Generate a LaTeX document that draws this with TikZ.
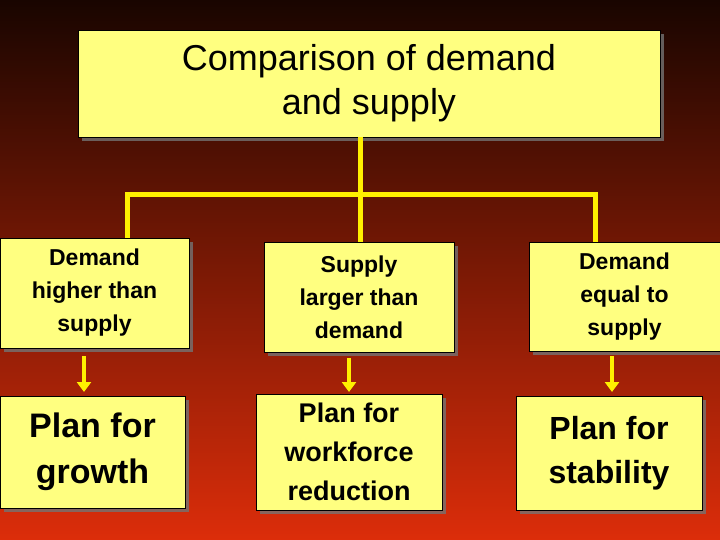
\documentclass[tikz,border=0pt]{standalone}
\usepackage{fontspec}
\setmainfont{Liberation Sans}
\usetikzlibrary{shadows,arrows.meta}
\definecolor{bgtop}{RGB}{25,5,0}
\definecolor{bgbot}{RGB}{220,45,10}
\definecolor{boxfill}{RGB}{255,255,128}
\definecolor{lineyel}{RGB}{255,240,0}
\begin{document}
\begin{tikzpicture}[x=1pt,y=-1pt,
  box/.style={draw=black,line width=0.8pt,fill=boxfill,inner sep=0pt,align=center,font=\bfseries,
    drop shadow={shadow xshift=4pt,shadow yshift=-4pt,fill=black!55,opacity=0.8}},
  conn/.style={lineyel,line width=5pt},
  arr/.style={lineyel,line width=4pt,-{Triangle[length=10pt,width=14pt]}}]
\shade[top color=bgtop,bottom color=bgbot] (0,0) rectangle (720,540);
\useasboundingbox (0,0) rectangle (720,540);
\node[box,minimum width=582pt,minimum height=107pt,font=\fontsize{36}{44}\selectfont] (t) at (369,83.5) {Comparison of demand\\and supply};
\node[box,minimum width=189pt,minimum height=110pt,font=\bfseries\fontsize{23}{33}\selectfont] (a) at (94.5,293) {Demand\\higher than\\supply};
\node[box,minimum width=190pt,minimum height=110pt,font=\bfseries\fontsize{23}{33}\selectfont] (b) at (359,297) {Supply\\larger than\\demand};
\node[box,minimum width=191pt,minimum height=109pt,font=\bfseries\fontsize{23}{33}\selectfont] (c) at (624.5,296.5) {Demand\\equal to\\supply};
\node[box,minimum width=185pt,minimum height=112pt,font=\bfseries\fontsize{34}{46}\selectfont] (d) at (92.5,452) {Plan for\\growth};
\node[box,minimum width=186pt,minimum height=116pt,font=\bfseries\fontsize{27}{39}\selectfont] (e) at (349,452) {Plan for\\workforce\\reduction};
\node[box,minimum width=186pt,minimum height=114pt,font=\bfseries\fontsize{32}{44}\selectfont] (f) at (609,453) {Plan for\\stability};
\coordinate (j) at (360,195);
\draw[conn] (t.south -| j) -- (j);
\draw[conn] (a.north -| 127,0) |- (j) -| (c.north -| 595,0);
\draw[conn] (j) -- (b.north -| j);
\draw[arr] (84,356) -- (84,392);
\draw[arr] (349,358) -- (349,392);
\draw[arr] (612,356) -- (612,392);
\end{tikzpicture}
\end{document}
